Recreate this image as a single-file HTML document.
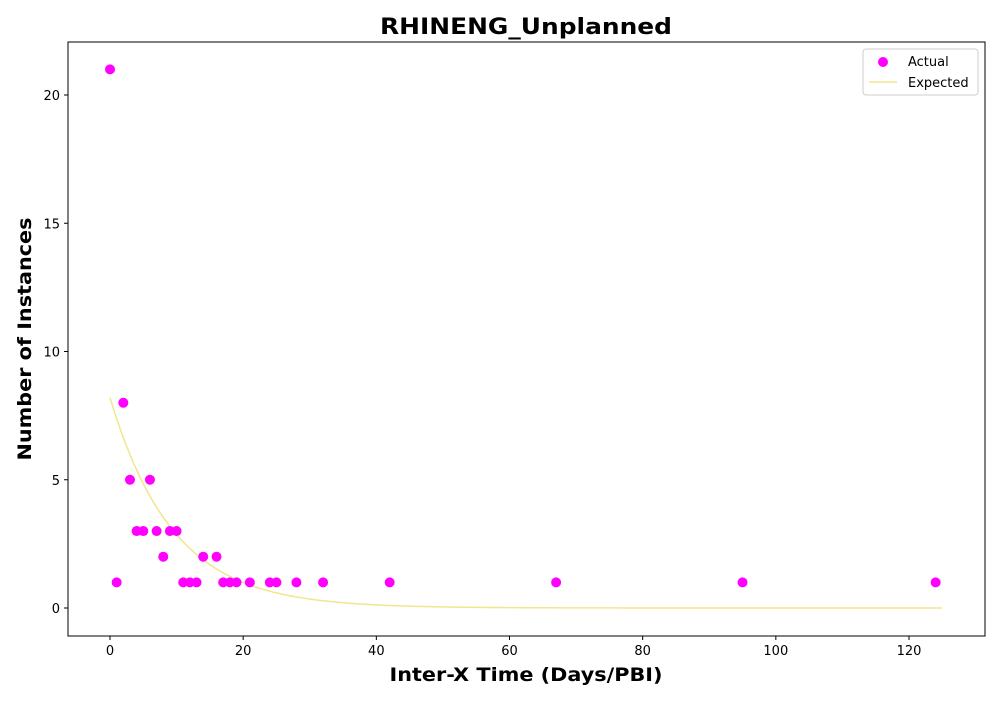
<!DOCTYPE html>
<html><head><meta charset="utf-8"><style>
body{margin:0;background:#fff;font-family:"DejaVu Sans","Liberation Sans",sans-serif}
text{font-family:"DejaVu Sans","Liberation Sans",sans-serif}
</style></head><body>
<svg id="c" width="1000" height="700" xmlns="http://www.w3.org/2000/svg"></svg>
<script>
const xs=[0,1,2,3,4,5,6,7,8,9,10,11,12,13,14,16,17,18,19,21,24,25,28,32,42,67,95,124];
const ys=[21,1,8,5,3,3,5,3,2,3,3,1,1,1,2,2,1,1,1,1,1,1,1,1,1,1,1,1];
const xTicks=[0,20,40,60,80,100,120];
const yTicks=[0,5,10,15,20];
const expA=8.2, expScale=9.5, expMax=125;
const L=68,R=985,T=42,B=636;
const X=v=>110+v*(909-110)/120;
const Y=v=>608-v*(608-95)/20;
const svg=document.getElementById('c');
const NS='http://www.w3.org/2000/svg';
function mk(t,a,txt){const e=document.createElementNS(NS,t);for(const k in a)e.setAttribute(k,a[k]);if(txt!=null)e.textContent=txt;svg.appendChild(e);return e;}
let e;
e=mk('rect',{x:L,y:T,width:R-L,height:B-T,fill:'none',stroke:'#000','stroke-width':1});


xTicks.forEach(v=>{
e=mk('line',{x1:X(v),x2:X(v),y1:B,y2:B+4,stroke:'#000'});


e=mk('text',{x:X(v),y:B+19,'text-anchor':'middle','font-size':13},v);


});
yTicks.forEach(v=>{
e=mk('line',{x1:L-4,x2:L,y1:Y(v),y2:Y(v),stroke:'#000'});


e=mk('text',{x:L-8,y:Y(v)+5,'text-anchor':'end','font-size':13},v);


});
let d='';
for(let i=0;i<=250;i++){const x=i*expMax/250;d+=(i?'L':'M')+X(x).toFixed(2)+','+Y(expA*Math.exp(-x/expScale)).toFixed(2);}
e=mk('path',{d:d,fill:'none',stroke:'#f0e68c','stroke-width':1.5});


xs.forEach((x,i)=>{
e=mk('circle',{cx:X(x),cy:Y(ys[i]),r:5,fill:'#ff00ff'});


});
e=mk('text',{x:526,y:34,'text-anchor':'middle','font-size':22,'font-weight':'bold',textLength:292,lengthAdjust:'spacingAndGlyphs'},'RHINENG_Unplanned');


e=mk('text',{x:526,y:681,'text-anchor':'middle','font-size':19,'font-weight':'bold',textLength:273,lengthAdjust:'spacingAndGlyphs'},'Inter-X Time (Days/PBI)');


e=mk('text',{x:31,y:339,'text-anchor':'middle','font-size':19,'font-weight':'bold',textLength:243,lengthAdjust:'spacingAndGlyphs',transform:'rotate(-90 31 339)'},'Number of Instances');


e=mk('rect',{x:863,y:49,width:115,height:46,rx:3,fill:'#fff',stroke:'#ccc'});


e=mk('circle',{cx:883,cy:62,r:5,fill:'#ff00ff'});


e=mk('text',{x:908,y:66,'font-size':13},'Actual');


e=mk('line',{x1:869,x2:897,y1:82,y2:82,stroke:'#f0e68c','stroke-width':1.5});


e=mk('text',{x:908,y:87,'font-size':13},'Expected');


</script>
</body></html>
